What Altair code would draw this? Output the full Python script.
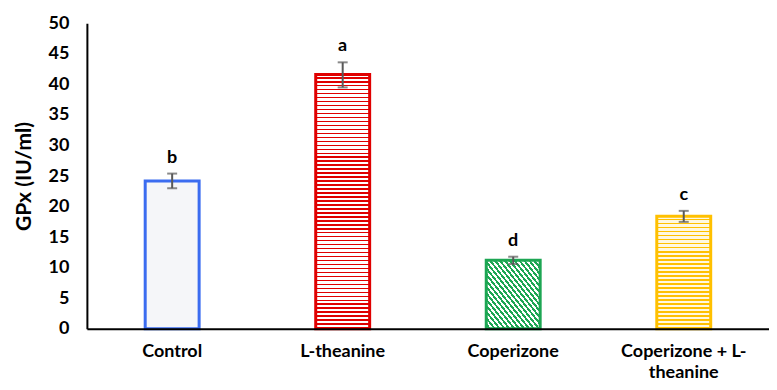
import altair as alt
import pandas as pd

categories = ["Control", "L-theanine", "Coperizone", "Coperizone + L-theanine"]
means = [24.2, 41.6, 11.2, 18.4]
err_low = [23.0, 39.5, 10.6, 17.5]
err_high = [25.4, 43.6, 11.8, 19.3]
letters = ["b", "a", "d", "c"]
y_ticks = [0, 5, 10, 15, 20, 25, 30, 35, 40, 45, 50]

df = pd.DataFrame({"cat": categories, "mean": means, "lo": err_low, "hi": err_high, "letter": letters})

FONT = "Lato"


def stripes(color, bg, n, frac, x1=0, y1=0, x2=0, y2=1):
    stops = []
    for i in range(n):
        a = i / n
        b = (i + 1 - frac) / n
        c = (i + 1) / n
        stops += [
            {"offset": a, "color": bg},
            {"offset": b, "color": bg},
            {"offset": b, "color": color},
            {"offset": c, "color": color},
        ]
    return {"gradient": "linear", "x1": x1, "y1": y1, "x2": x2, "y2": y2, "stops": stops}


styles = {
    "Control": ("#3B6CF0", "#F5F6F9"),
    "L-theanine": ("#E00000", stripes("#E00000", "#FFFFFF", 64, 0.38)),
    "Coperizone": ("#1DA653", stripes("#1DA653", "#FFFFFF", 22, 0.5, 0, 1, 1, 0)),
    "Coperizone + L-theanine": ("#FFC000", stripes("#FFC000", "#FFF8E0", 28, 0.35)),
}

xaxis = alt.Axis(
    labelAngle=0,
    ticks=False,
    domainColor="#000000",
    domainWidth=2,
    labelFont=FONT,
    labelFontSize=18,
    labelFontWeight="bold",
    labelColor="#000000",
    labelPadding=14,
    labelLimit=300,
    labelLineHeight=21,
    labelOverlap=False,
    zindex=2,
    labelExpr="datum.value == 'Coperizone + L-theanine' ? ['Coperizone + L-', 'theanine'] : datum.label",
)
yaxis = alt.Axis(
    values=y_ticks,
    ticks=False,
    grid=False,
    labelOverlap=False,
    domainColor="#000000",
    domainWidth=2,
    labelFont=FONT,
    labelFontSize=18,
    labelFontWeight="bold",
    labelColor="#000000",
    labelPadding=18,
    titleFont=FONT,
    titleFontSize=21,
    titleFontWeight="bold",
    titleColor="#000000",
    titlePadding=14,
    zindex=2,
)
yscale = alt.Scale(domain=[0, 50])
xenc = alt.X("cat:N", sort=categories, title=None,
             scale=alt.Scale(paddingInner=0, paddingOuter=0), axis=xaxis)


def Y(field):
    return alt.Y(field, title="GPx (IU/ml)", scale=yscale, axis=yaxis)


base = alt.Chart(df)
layers = []
for cat in categories:
    stroke, fill = styles[cat]
    layers.append(
        base.transform_filter(alt.datum.cat == cat)
        .mark_bar(width=54, fill=fill, stroke=stroke, strokeWidth=3)
        .encode(x=xenc, y=Y("mean:Q"))
    )

rules = base.mark_rule(color="#595959", strokeWidth=2).encode(x=xenc, y=Y("lo:Q"), y2="hi:Q")
cap_lo = base.mark_tick(color="#595959", size=10, thickness=2).encode(x=xenc, y=Y("lo:Q"))
cap_hi = base.mark_tick(color="#595959", size=10, thickness=2).encode(x=xenc, y=Y("hi:Q"))
text = base.mark_text(
    font=FONT, fontSize=18, fontWeight="bold", color="#000000", baseline="bottom", dy=-7
).encode(x=xenc, y=Y("hi:Q"), text="letter:N")

chart = (
    alt.layer(*layers, rules, cap_lo, cap_hi, text)
    .properties(
        width=683,
        height=306,
        autosize=alt.AutoSizeParams(type="none"),
        padding={"left": 79, "top": 15, "right": 0, "bottom": 53},
        background="#FFFFFF",
    )
    .configure_view(stroke=None)
)

chart.save("out.html", embed_options={"renderer": "svg", "actions": False})
